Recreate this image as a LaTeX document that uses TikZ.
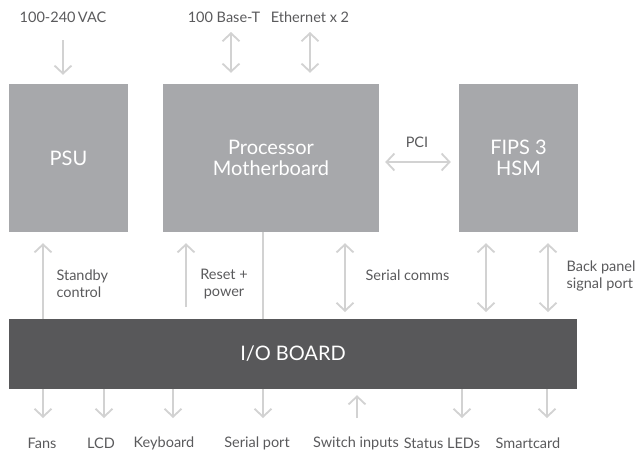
\documentclass[tikz,border=0pt]{standalone}
\usepackage{fontspec}
\setmainfont{Lato}
\usetikzlibrary{arrows.meta}

\definecolor{boxgrey}{HTML}{A7A8AB}
\definecolor{iogrey}{HTML}{58585A}
\definecolor{linkgrey}{HTML}{D2D2D2}
\definecolor{textgrey}{HTML}{5A5A5C}

\begin{document}
\begin{tikzpicture}
  [x=1pt,y=-1pt,>={Straight Barb[length=8pt,width=17pt]},
   every node/.style={align=center,text=textgrey,font=\fontsize{14.5}{17}\selectfont}]
  \tikzstyle{unit}=[fill=boxgrey,text=white,inner sep=0pt,font=\fontsize{20}{21}\selectfont]
  \tikzstyle{link}=[linkgrey,line width=1.8pt]
  \useasboundingbox (0,0) rectangle (638,453);

  \begin{scope}
    \node[unit,minimum width=119pt,minimum height=148pt] (psu) at (68.5,158) {PSU};
    \node[unit,minimum width=216pt,minimum height=148pt] (mb) at (271,158) {Processor\\Motherboard};
    \node[unit,minimum width=119pt,minimum height=148pt] (hsm) at (518.5,158) {FIPS 3\\HSM};
    \node[unit,fill=iogrey,minimum width=568pt,minimum height=70pt] (io) at (293,354) {I/O BOARD};
  \end{scope}

  \begin{scope}
    \node (vaclabel) at (63,17) {100-240\,VAC};
    \node (basetlabel) at (224,17) {100 Base-T};
    \node (ethlabel) at (310,17) {Ethernet x 2};
    \coordinate (vac) at (63,40);
    \coordinate (eth1) at (231,32);
    \coordinate (eth2) at (310,32);
    \draw[link,->,shorten >=9pt] (vac) -- (vac |- psu.north);
    \draw[link,<->,shorten >=11pt] (eth1) -- (eth1 |- mb.north);
    \draw[link,<->,shorten >=11pt] (eth2) -- (eth2 |- mb.north);
  \end{scope}

  \node (pcilabel) at (417,142) {PCI};
  \draw[link,<->,shorten <=6pt,shorten >=8pt] ([yshift=-4pt]mb.east) -- ([yshift=-4pt]hsm.west);

  \begin{scope}
    \coordinate (sb) at (43,319);
    \coordinate (rst) at (186,319);
    \coordinate (bus) at (263,319);
    \coordinate (ser) at (345,319);
    \coordinate (hsm1) at (486,319);
    \coordinate (hsm2) at (548,319);
    \draw[link,->,shorten >=11pt] (sb) -- (sb |- psu.south);
    \draw[link,->,shorten <=12pt,shorten >=11pt] (rst) -- (rst |- mb.south);
    \draw[link] (bus) -- (bus |- mb.south);
    \draw[link,<->,shorten <=7pt,shorten >=11pt] (ser) -- (ser |- mb.south);
    \draw[link,<->,shorten <=7pt,shorten >=11pt] (hsm1) -- (hsm1 |- hsm.south);
    \draw[link,<->,shorten <=7pt,shorten >=11pt] (hsm2) -- (hsm2 |- hsm.south);
    \node[anchor=west,align=left] (sblabel) at (53,284) {Standby\\control};
    \node (rstlabel) at (224,284) {Reset +\\power};
    \node[anchor=west] (serlabel) at (362,275) {Serial comms};
    \node[anchor=west,align=left] (panellabel) at (563,276) {Back panel\\signal port};
  \end{scope}

  \begin{scope}
    \coordinate (fans) at (43,418);
    \coordinate (lcd) at (104,418);
    \coordinate (kbd) at (173,418);
    \coordinate (sport) at (263,418);
    \coordinate (sw) at (357,418);
    \coordinate (leds) at (462,418);
    \coordinate (card) at (547,418);
    \foreach \p in {fans,lcd,kbd,sport,leds,card}
      \draw[link,->] (\p |- io.south) -- (\p);
    \draw[link,->,shorten >=6pt] (sw) -- (sw |- io.south);
    \node (fanslabel) at (42,443) {Fans};
    \node (lcdlabel) at (101,443) {LCD};
    \node (kbdlabel) at (164,443) {Keyboard};
    \node (sportlabel) at (257,443) {Serial port};
    \node (swlabel) at (356,443) {Switch inputs};
    \node (ledslabel) at (442,443) {Status LEDs};
    \node (cardlabel) at (528,443) {Smartcard};
  \end{scope}

\end{tikzpicture}
\end{document}
